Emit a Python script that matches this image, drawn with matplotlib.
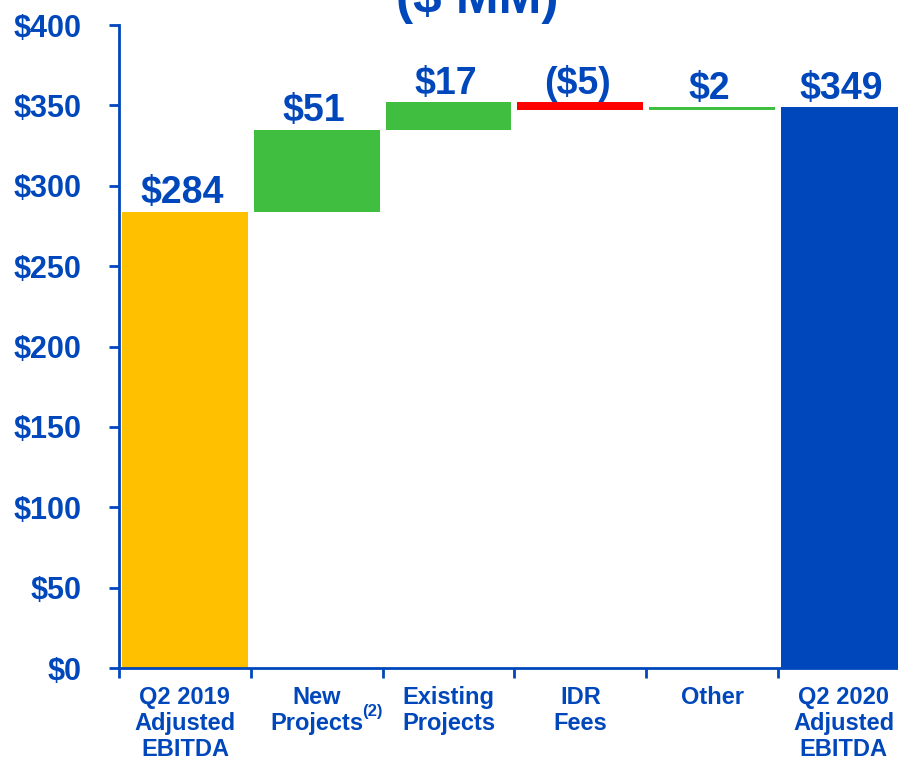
import matplotlib.pyplot as plt
import numpy as np

plt.rcParams['font.family'] = ['Liberation Sans', 'DejaVu Sans']
plt.rcParams['font.weight'] = 'bold'

categories = ['Q2 2019\nAdjusted\nEBITDA', 'New\nProjects', 'Existing\nProjects',
              'IDR\nFees', 'Other', 'Q2 2020\nAdjusted\nEBITDA']
values = [284, 51, 17, -5, 2, 349]
value_labels = ['$284', '$51', '$17', '($5)', '$2', '$349']
kinds = ['total', 'delta', 'delta', 'delta', 'delta', 'total']

blue = '#0047BB'
colors = {'total0': '#FFC000', 'up': '#3FBE3F', 'down': '#FF0000', 'total1': blue}

# waterfall bottoms
bottoms = []
heights = []
bar_colors = []
running = 0
for i, (v, k) in enumerate(zip(values, kinds)):
    if k == 'total':
        bottoms.append(0)
        heights.append(v)
        bar_colors.append(colors['total0'] if i == 0 else colors['total1'])
        running = v
    else:
        if v >= 0:
            bottoms.append(running)
            heights.append(v)
            bar_colors.append(colors['up'])
        else:
            bottoms.append(running + v)
            heights.append(-v)
            bar_colors.append(colors['down'])
        running += v

fig = plt.figure(figsize=(8.98, 7.6), dpi=100)
ax = fig.add_axes([0.1325, 0.121, 0.8806, 0.846])

x = np.arange(len(values))
ax.bar(x, heights, bottom=bottoms, width=0.955, color=bar_colors, linewidth=0)

for xi, b, h, lab in zip(x, bottoms, heights, value_labels):
    ax.annotate(lab, (xi, b + h), xytext=(-2, 6), textcoords='offset points',
                ha='center', va='baseline', fontsize=27, color=blue, fontweight='bold')

ax.set_xlim(-0.5, len(values) - 0.5)
ax.set_ylim(0, 400)
ax.set_yticks(np.arange(0, 401, 50))
ax.set_yticklabels(['$%d' % v for v in range(0, 401, 50)])
ax.set_xticks(np.arange(-0.5, len(values), 1.0))
ax.set_xticklabels([])
ax.set_xticks(x, minor=True)
ax.set_xticklabels(categories, minor=True, fontsize=17, color=blue,
                   fontweight='bold', linespacing=1.17, va='top')

for s in ['top', 'right']:
    ax.spines[s].set_visible(False)
for s in ['left', 'bottom']:
    ax.spines[s].set_color(blue)
    ax.spines[s].set_linewidth(2)

ax.tick_params(axis='y', direction='out', length=7, width=2, color=blue,
               labelcolor=blue, labelsize=22, pad=20)
ax.tick_params(axis='x', which='major', direction='out', length=7, width=2, color=blue)
ax.tick_params(axis='x', which='minor', length=0, pad=13)

ax.text(1.42, -0.068, '(2)', transform=ax.get_xaxis_transform(), fontsize=12,
        color=blue, fontweight='bold', ha='center', va='center')

fig.text(0.532, 1 - 13 / 760, '($ MM)', ha='center', va='baseline',
         fontsize=37, color=blue, fontweight='bold')

fig.savefig('out.png', dpi=100)
